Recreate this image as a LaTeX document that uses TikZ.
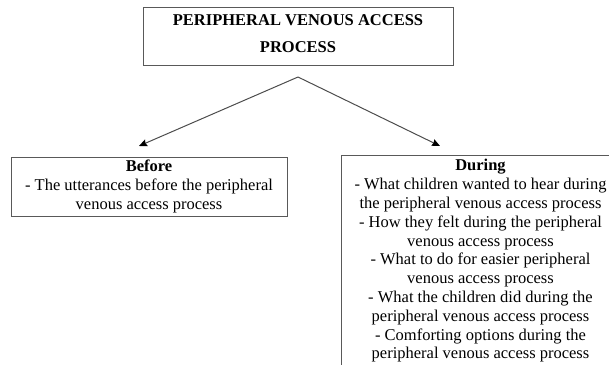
\documentclass[tikz,border=0pt]{standalone}
\usepackage{fontspec}
\setmainfont{Liberation Serif}
\usetikzlibrary{arrows.meta}
\begin{document}
\begin{tikzpicture}[x=1pt,y=-1pt,
  box/.style={draw=black!65, line width=1pt, align=center, inner sep=0pt,
    font=\fontsize{16.5}{18.8}\selectfont},
  link/.style={draw=black!70, line width=1pt, -{Stealth[length=8pt,width=7pt,inset=1pt,black]}}]
\useasboundingbox (0,0) rectangle (609,364);
\node[box, minimum width=310, minimum height=58, text depth=5pt,
  font=\bfseries\fontsize{16.5}{27}\selectfont] (top) at (298,36)
  {PERIPHERAL VENOUS ACCESS\\PROCESS};
\node[box, minimum width=276, minimum height=59] (before) at (149,186.5)
  {\textbf{Before}\\- The utterances before the peripheral\\venous access process};
\node[box, minimum width=279, inner ysep=4pt, anchor=north] (during) at (480.5,155)
  {\textbf{During}\\- What children wanted to hear during\\the peripheral venous access process\\- How they felt during the peripheral\\venous access process\\- What to do for easier peripheral\\venous access process\\- What the children did during the\\peripheral venous access process\\- Comforting options during the\\peripheral venous access process};
\coordinate (apex) at (298,77);
\coordinate (bl) at (139,146);
\coordinate (br) at (440,146);
\draw[link] (apex) -- (bl);
\draw[link] (apex) -- (br);
\end{tikzpicture}
\end{document}
